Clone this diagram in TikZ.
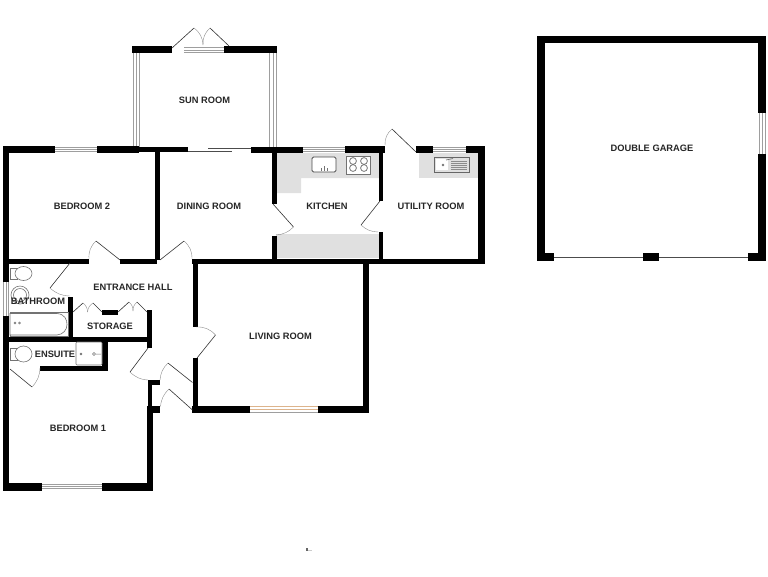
\documentclass[tikz,border=0pt]{standalone}
\usepackage{fontspec}
\setmainfont{Liberation Sans}
\definecolor{counter}{gray}{0.88}
\definecolor{glass}{gray}{0.62}
\definecolor{fixture}{gray}{0.45}
\tikzset{
  wall/.style={fill=black,draw=none},
  counterarea/.style={fill=counter,draw=none},
  leaf/.style={draw=black!80,line width=0.6pt},
  swing/.style={draw=black!45,line width=0.4pt},
  glassline/.style={draw=glass,line width=0.6pt},
  fix/.style={draw=fixture,line width=0.6pt,fill=white},
  fixdark/.style={draw=black!70,line width=0.9pt,fill=white},
  roomlabel/.style={font=\bfseries\fontsize{9.3}{10}\selectfont,text=black!85,inner sep=0pt},
}
\newcommand{\hwin}[3]{% x1 x2 ytop: horizontal window
  \draw[glassline] (#1,#3) -- (#2,#3) (#1,#3+2.3) -- (#2,#3+2.3) (#1,#3+4.6) -- (#2,#3+4.6);}
\begin{document}
\begin{tikzpicture}[x=1pt,y=-1pt]
\useasboundingbox (0,0) rectangle (768,576);
% counters
\fill[counterarea] (276,153) -- (379,153) -- (379,178) -- (301,178) -- (301,193) -- (276,193) -- cycle;
\fill[counterarea] (276,234) rectangle (379,258);
\fill[counterarea] (419,153) rectangle (478,178);
% sun room glazing
\draw[glassline] (133,53) -- (133,147) (136,53) -- (136,147) (139.5,53) -- (139.5,147);
\draw[glassline] (269.5,53) -- (269.5,147) (273,53) -- (273,147) (276,53) -- (276,147);
% sun room walls
\fill[wall] (132,46) rectangle (172,53);
\fill[wall] (224,46) rectangle (277,53);
\hwin{184}{224}{47.5}
\draw[leaf] (172,48) -- (194,28);
\draw[leaf] (229,46) -- (210,28);
\draw[swing] (194,28) to[bend left=25] (203,45);
\draw[swing] (210,28) to[bend right=25] (203,45);
% main outer walls
\fill[wall] (3,146) rectangle (9,491);
\fill[wall] (3,146) rectangle (55,153);
\fill[wall] (97,146) rectangle (139,153);
\fill[wall] (139,147) rectangle (188,152);
\fill[wall] (251,147) rectangle (303,153);
\fill[wall] (345,146) rectangle (385,153);
\fill[wall] (416,146) rectangle (433,153);
\fill[wall] (466,146) rectangle (485,153);
\fill[wall] (478,146) rectangle (485,264);
\hwin{55}{97}{147}
\hwin{303}{345}{147}
\hwin{433}{466}{147}
% sliding door dining
\draw[black!70,line width=0.6pt] (188,151.5) -- (232,151.5);
\draw[black!70,line width=0.6pt] (208,148) -- (251,148);
% inner verticals
\fill[wall] (155,152) rectangle (160,260);
\fill[wall] (272,152) rectangle (276.5,204);
\fill[wall] (272,236) rectangle (276.5,260);
\fill[wall] (379,152) rectangle (383,201);
\fill[wall] (379,232) rectangle (383,260);
% long horizontal walls
\fill[wall] (9,259) rectangle (89,264);
\fill[wall] (120,259) rectangle (157,264);
\fill[wall] (192,259) rectangle (485,264);
% living room
\fill[wall] (193,259) rectangle (197.5,327);
\fill[wall] (193,358) rectangle (197.5,413);
\fill[wall] (192,406) rectangle (250,413);
\fill[wall] (318,406) rectangle (369,413);
\fill[wall] (362.5,259) rectangle (369,413);
\draw[glassline,draw=black!30!orange!45] (250,406.5) -- (318,406.5) (250,409) -- (318,409);
\draw[glassline] (250,412) -- (318,412);
% bathroom/storage/ensuite
\fill[wall] (68,297) rectangle (73,337);
\fill[wall] (9,337) rectangle (152,342);
\fill[wall] (147,310) rectangle (152,348);
\fill[wall] (102,310) rectangle (118,315);
\fill[wall] (102,342) rectangle (108,371);
\fill[wall] (40,366) rectangle (108,371);
% bedroom 1
\fill[wall] (148,380) rectangle (152,407);
\fill[wall] (148,380) rectangle (160,385);
\fill[wall] (147,406) rectangle (160,413);
\fill[wall] (147,407) rectangle (153,491);
\fill[wall] (3,483) rectangle (42,491);
\fill[wall] (102,483) rectangle (153,491);
\hwin{42}{102}{484}
% west window
\fill[white] (2.5,282) rectangle (9.5,316);
\draw[glassline] (3.5,282) -- (3.5,316) (6,282) -- (6,316) (8.5,282) -- (8.5,316);
% door leaves
\draw[leaf] (70,263) -- (50,288);
\draw[swing] (50,288) to[bend right=20] (70,296);
\draw[leaf] (120,260) -- (96,241);
\draw[swing] (96,241) to[bend right=25] (89,259);
\draw[leaf] (160,260) -- (184,241);
\draw[swing] (184,241) to[bend left=25] (192,259);
\draw[leaf] (197,358) -- (215.5,335);
\draw[swing] (215.5,335) to[bend right=25] (196,327);
\draw[leaf] (148,348) -- (130,372);
\draw[swing] (130,372) to[bend right=20] (148,380);
\draw[leaf] (192.5,382.5) -- (168,363);
\draw[swing] (168,363) to[bend right=20] (160,380);
\draw[leaf] (192.5,410) -- (169,389);
\draw[swing] (169,389) to[bend right=20] (160.5,406.5);
\draw[leaf] (10,369) -- (32,387);
\draw[swing] (32,387) to[bend right=20] (40,368);
% storage doors
\draw[leaf] (73,312) -- (83,303);
\draw[leaf] (102,312) -- (93,303);
\draw[swing] (83,303) to[bend left=25] (87.5,312);
\draw[swing] (93,303) to[bend right=25] (87.5,312);
\draw[leaf] (118,312) -- (129,302);
\draw[leaf] (147,312) -- (137,302);
\draw[swing] (129,302) to[bend left=25] (133,311);
\draw[swing] (137,302) to[bend right=25] (133,311);
% kitchen & utility doors
\draw[leaf] (273,204) -- (293.5,227);
\draw[swing] (293.5,227) to[bend left=20] (276,235);
\draw[leaf] (380,201) -- (361,225);
\draw[swing] (361,225) to[bend right=20] (378,232);
\draw[leaf] (416,152) -- (392,129);
\draw[swing] (392,129) to[bend right=25] (385,145);
% kitchen fixtures
\draw[fixdark,rounded corners=1.5pt] (312,157) rectangle (336,172);
\draw[fixture,line width=0.6pt] (321,171) -- (321,168) (324,171) -- (324,166) (327,171) -- (327,168);
\draw[fix,draw=black!55] (346,156) rectangle (370,174);
\foreach \cx/\cy in {353/161,364/161,353/168,364/168}
  \draw[black!60,line width=0.7pt] (\cx,\cy) circle (3.4);
% utility sink
\draw[fix,fill=counter,draw=black!60,line width=0.8pt] (434,157) rectangle (469,172);
\fill[white] (436,159) rectangle (448,170);
\fill[fixture] (443,165) circle (1.4);
\draw[fixture,line width=0.7pt] (446,160) -- (453,158.5);
\foreach \yy in {161,163,165,167,169}
  \draw[black!45,line width=0.4pt] (451,\yy) -- (467,\yy);
% bathroom fixtures
\draw[fix] (10,268) -- (17,268) -- (17,279) -- (10,279) -- cycle;
\draw[fix] (23.5,273.5) ellipse (8.5 and 7);
\draw[fix] (20,295) circle (9);
\draw[fix] (20,295) circle (6.5);
\draw[fixture,line width=0.4pt] (10,312.5) rectangle (68,336);
\draw[fix] (10,313.5) -- (57,313.5) .. controls (65,314) and (67,320) .. (67,324.5) .. controls (67,330) and (63,334.5) .. (57,335) -- (10,335) -- cycle;
\draw[fixture,line width=0.4pt] (15,323) circle (1) (19.5,323) circle (1);
\draw[fix] (10,348.5) -- (17,348.5) -- (17,360) -- (10,360) -- cycle;
\draw[fix] (23.5,354) ellipse (8.5 and 8);
% ensuite basin
\draw[fix,rounded corners=1pt] (76,342) rectangle (102,365);
\fill[fixture] (81,354) circle (1.3);
\draw[fixture,line width=0.5pt] (94,354) circle (1.5) (96,354) -- (101,354);
% garage
\fill[wall] (537,36) rectangle (766,43);
\fill[wall] (537,36) rectangle (545,261);
\fill[wall] (758,36) rectangle (766,113);
\fill[wall] (758,154) rectangle (766,261);
\fill[wall] (537,253) rectangle (554,261);
\fill[wall] (643,253) rectangle (659,261);
\fill[wall] (748,253) rectangle (766,261);
\draw[glassline] (759,113) -- (759,154) (762,113) -- (762,154) (765.5,113) -- (765.5,154);
\draw[black!70,line width=0.6pt] (554,257) -- (643,257) (659,257) -- (748,257);
% stray mark below the plan
\fill[black!60] (306,548) rectangle (307.5,550.5);
\fill[black!20] (307.5,549.5) rectangle (312,550.5);
% labels
\node[roomlabel] (sun) at (204.5,100) {SUN ROOM};
\node[roomlabel] (bed2) at (82,206) {BEDROOM 2};
\node[roomlabel] (din) at (209,206) {DINING ROOM};
\node[roomlabel] (kit) at (327,206) {KITCHEN};
\node[roomlabel] (util) at (431,206) {UTILITY ROOM};
\node[roomlabel] (hall) at (133,287) {ENTRANCE HALL};
\node[roomlabel] (bath) at (38,301) {BATHROOM};
\node[roomlabel] (stor) at (110,326) {STORAGE};
\node[roomlabel] (ens) at (55,354) {ENSUITE};
\node[roomlabel] (liv) at (280.5,336) {LIVING ROOM};
\node[roomlabel] (bed1) at (78,428) {BEDROOM 1};
\node[roomlabel] (gar) at (652,148) {DOUBLE GARAGE};
\end{tikzpicture}
\end{document}
